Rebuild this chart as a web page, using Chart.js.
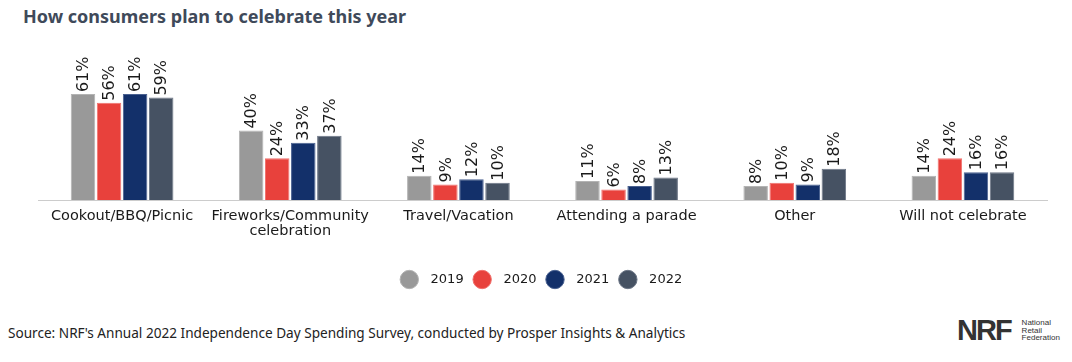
<!DOCTYPE html>
<html>
<head>
<meta charset="utf-8">
<script src="https://cdn.jsdelivr.net/npm/chart.js@4.4.1/dist/chart.umd.min.js"></script>
<style>
  html, body { margin: 0; padding: 0; background: #fff; }
  body { width: 1072px; height: 362px; position: relative; overflow: hidden; font-family: "Noto Sans", sans-serif; }
  #title { position: absolute; left: 23px; top: 4px; font-size: 18px; font-weight: bold; color: #3f4a5a; }
  #wrap { position: absolute; left: 0; top: 40px; width: 1072px; height: 260px; }
  #source { position: absolute; left: 8px; top: 323px; font-size: 13.6px; color: #222; }
  #logo { position: absolute; left: 957px; top: 316px; display: flex; align-items: center; }
  #logo .big { font-family: "Liberation Sans", sans-serif; font-weight: bold; font-size: 29px; color: #333; letter-spacing: -2px; line-height: 1; }
  #logo .small { font-family: "Liberation Sans", sans-serif; font-size: 8px; line-height: 7.8px; color: #333; margin-left: 11px; }
</style>
</head>
<body>
<div id="title">How consumers plan to celebrate this year</div>
<div id="wrap"><canvas id="chart"></canvas></div>
<div id="source">Source: NRF's Annual 2022 Independence Day Spending Survey, conducted by Prosper Insights &amp; Analytics</div>
<div id="logo"><span class="big">NRF</span><span class="small">National<br>Retail<br>Federation</span></div>
<script>
const categories = [
  "Cookout/BBQ/Picnic",
  ["Fireworks/Community", "celebration"],
  "Travel/Vacation",
  "Attending a parade",
  "Other",
  "Will not celebrate"
];
const years = ["2019", "2020", "2021", "2022"];
const values2019 = [61, 40, 14, 11, 8, 14];
const values2020 = [56, 24, 9, 6, 10, 24];
const values2021 = [61, 33, 12, 8, 9, 16];
const values2022 = [59, 37, 10, 13, 18, 16];

const fills = ["#999999", "#e8413c", "#13306a", "#465263"];
const edges = ["#b3b3b3", "#f0706c", "#4a6190", "#6c7686"];
const series = [values2019, values2020, values2021, values2022];

// value labels, rotated, sitting on top of each bar
const barLabels = {
  id: "barLabels",
  afterDatasetsDraw(chart) {
    const ctx = chart.ctx;
    ctx.save();
    ctx.font = "16px 'DejaVu Sans'";
    ctx.fillStyle = "#1a1a1a";
    ctx.textAlign = "left";
    ctx.textBaseline = "middle";
    chart.data.datasets.forEach((ds, i) => {
      chart.getDatasetMeta(i).data.forEach((bar, j) => {
        ctx.save();
        ctx.translate(bar.x + 1, bar.y - 2);
        ctx.rotate(-Math.PI / 2);
        ctx.fillText(ds.data[j] + "%", 0, 0);
        ctx.restore();
      });
    });
    ctx.restore();
  }
};

new Chart(document.getElementById("chart"), {
  type: "bar",
  data: {
    labels: categories,
    datasets: series.map((d, i) => ({
      label: years[i],
      data: d,
      backgroundColor: fills[i],
      borderColor: edges[i],
      borderWidth: 1,
      categoryPercentage: 0.62,
      barPercentage: 0.94,
    })),
  },
  options: {
    responsive: true,
    maintainAspectRatio: false,
    animation: false,
    layout: { padding: { left: 38, right: 25, top: 38.5, bottom: 4 } },
    plugins: {
      legend: {
        position: "bottom",
        labels: {
          usePointStyle: true, pointStyle: "circle", boxWidth: 16, boxHeight: 16,
          padding: 12, color: "#1a1a1a", font: { family: "DejaVu Sans", size: 13 },
          generateLabels: (chart) => Chart.defaults.plugins.legend.labels.generateLabels(chart)
            .map((item) => ({ ...item, text: "  " + item.text })),
        },
      },
      tooltip: { enabled: false },
    },
    scales: {
      y: { display: false, min: 0, max: 70 },
      x: {
        grid: { display: false },
        border: { display: true, color: "#cccccc", width: 1 },
        ticks: { color: "#1a1a1a", font: { family: "DejaVu Sans", size: 14.5, lineHeight: 1.0 }, padding: 1, maxRotation: 0 },
        afterFit: (s) => { s.height = 61; },
      },
    },
  },
  plugins: [barLabels],
});
</script>
</body>
</html>
